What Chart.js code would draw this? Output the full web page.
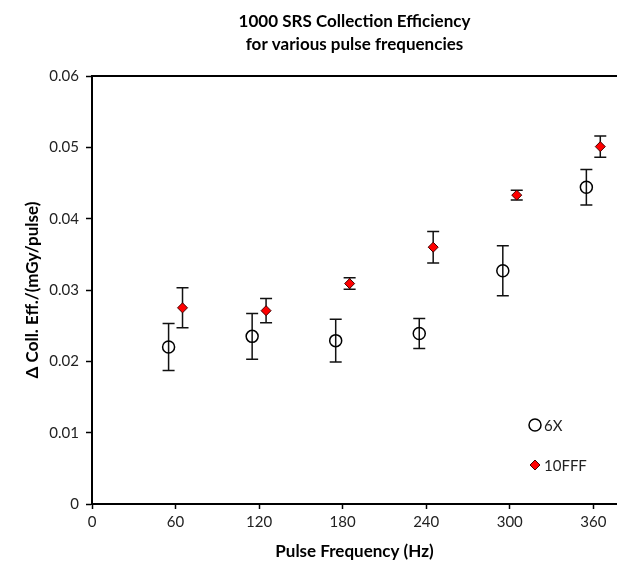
<!DOCTYPE html>
<html>
<head>
<meta charset="utf-8">
<script src="https://cdn.jsdelivr.net/npm/chart.js@4"></script>
<style>
  body { margin: 0; background: #fff; }
  #wrap { width: 617px; height: 571px; }
</style>
</head>
<body>
<div id="wrap"><canvas id="effChart" width="617" height="571"></canvas></div>
<script>
// values
const freq6X = [55, 115, 175, 235, 295, 355];
const eff6X = [0.0220, 0.0235, 0.0229, 0.0239, 0.0327, 0.0444];
const err6X = [0.0033, 0.0032, 0.0030, 0.0021, 0.0035, 0.0025];

const freq10FFF = [65, 125, 185, 245, 305, 365];
const eff10FFF = [0.0275, 0.0271, 0.0309, 0.0360, 0.0433, 0.0501];
const err10FFF = [0.0028, 0.0017, 0.0008, 0.0022, 0.0007, 0.0015];

const xTicks = [0, 60, 120, 180, 240, 300, 360];
const yTicks = [0, 0.01, 0.02, 0.03, 0.04, 0.05, 0.06];

const seriesNames = ['6X', '10FFF'];
const titleLines = ['1000 SRS Collection Efficiency', 'for various pulse frequencies'];

const FONT = 'Lato, "Open Sans", sans-serif';
const TEXT = '#222';

const puntos = (xs, ys, errs) => xs.map((x, i) => ({ x: x, y: ys[i], err: errs[i] }));

// error bars, under the markers
const barrasError = {
    id: 'barrasError',
    beforeDatasetsDraw(chart) {
        const ctx = chart.ctx;
        const xs = chart.scales.x, ys = chart.scales.y;
        ctx.save();
        ctx.strokeStyle = '#111';
        ctx.lineWidth = 1.5;
        chart.data.datasets.forEach(ds => {
            ds.data.forEach(p => {
                const px = xs.getPixelForValue(p.x);
                const top = ys.getPixelForValue(p.y + p.err);
                const bot = ys.getPixelForValue(p.y - p.err);
                ctx.beginPath();
                ctx.moveTo(px, top); ctx.lineTo(px, bot);
                ctx.moveTo(px - 6, top); ctx.lineTo(px + 6, top);
                ctx.moveTo(px - 6, bot); ctx.lineTo(px + 6, bot);
                ctx.stroke();
            });
        });
        ctx.restore();
    }
};

// title, frame top line and the in-plot legend
const decoracion = {
    id: 'decoracion',
    afterDraw(chart) {
        const ctx = chart.ctx;
        const area = chart.chartArea;
        ctx.save();
        ctx.strokeStyle = '#000';
        ctx.lineWidth = 2;
        ctx.beginPath();
        ctx.moveTo(area.left, area.top);
        ctx.lineTo(area.right, area.top);
        ctx.stroke();

        ctx.fillStyle = '#000';
        ctx.font = 'bold 17px ' + FONT;
        ctx.textAlign = 'center';
        ctx.textBaseline = 'middle';
        const cx = (area.left + area.right) / 2;
        ctx.fillText(titleLines[0], cx, 22);
        ctx.fillText(titleLines[1], cx, 45);

        // legend
        const ds = chart.data.datasets;
        const filas = [425, 465];
        ctx.font = '15px ' + FONT;
        ctx.textAlign = 'left';
        ds.forEach((d, i) => {
            ctx.strokeStyle = d.borderColor;
            ctx.fillStyle = d.backgroundColor;
            ctx.lineWidth = d.borderWidth;
            Chart.helpers.drawPoint(ctx, { pointStyle: d.pointStyle, radius: d.pointRadius, borderWidth: d.borderWidth }, 535, filas[i]);
            ctx.fillStyle = TEXT;
            ctx.fillText(seriesNames[i], 544, filas[i] + 1);
        });
        ctx.restore();
    }
};

new Chart(document.getElementById('effChart').getContext('2d'), {
    type: 'scatter',
    data: {
        datasets: [{
            label: seriesNames[0],
            data: puntos(freq6X, eff6X, err6X),
            pointStyle: 'circle',
            pointRadius: 6,
            backgroundColor: 'rgba(0,0,0,0)',
            borderColor: '#000',
            borderWidth: 1.5
        }, {
            label: seriesNames[1],
            data: puntos(freq10FFF, eff10FFF, err10FFF),
            pointStyle: 'rectRot',
            pointRadius: 5,
            backgroundColor: '#ff0000',
            borderColor: '#400',
            borderWidth: 1
        }]
    },
    options: {
        responsive: false,
        animation: false,
        layout: { autoPadding: false, padding: { top: 76, right: 0, bottom: 0, left: 0 } },
        plugins: {
            legend: { display: false },
            tooltip: { enabled: false },
            title: { display: false }
        },
        scales: {
            x: {
                type: 'linear',
                min: 0,
                max: 377,
                afterBuildTicks: (axis) => { axis.ticks = xTicks.map(v => ({ value: v })); },
                afterFit: (scale) => {
                    scale.height = 67;
                    scale.paddingLeft = 0;
                    scale.paddingRight = 0;
                },
                grid: { drawOnChartArea: false, tickLength: 5, color: '#000', tickWidth: 1.5 },
                border: { color: '#000', width: 2 },
                ticks: { color: TEXT, font: { family: FONT, size: 15 }, padding: 4, maxRotation: 0 },
                title: {
                    display: true,
                    text: 'Pulse Frequency (Hz)',
                    color: '#000',
                    font: { family: FONT, size: 17, weight: 'bold' },
                    padding: { top: 0, bottom: 9 }
                }
            },
            y: {
                min: 0,
                max: 0.06,
                afterBuildTicks: (axis) => { axis.ticks = yTicks.map(v => ({ value: v })); },
                afterFit: (scale) => { scale.width = 92; },
                grid: { drawOnChartArea: false, tickLength: 6, color: '#000', tickWidth: 1.5 },
                border: { color: '#000', width: 2 },
                ticks: {
                    color: TEXT,
                    font: { family: FONT, size: 15 },
                    padding: 7,
                    callback: (v) => v === 0 ? '0' : v.toFixed(2)
                },
                title: {
                    display: true,
                    text: '\u0394 Coll. Eff./(mGy/pulse)',
                    color: '#000',
                    font: { family: FONT, size: 17, weight: 'bold' },
                    padding: { top: 22, bottom: 0 }
                }
            }
        }
    },
    plugins: [barrasError, decoracion]
});
</script>
</body>
</html>
